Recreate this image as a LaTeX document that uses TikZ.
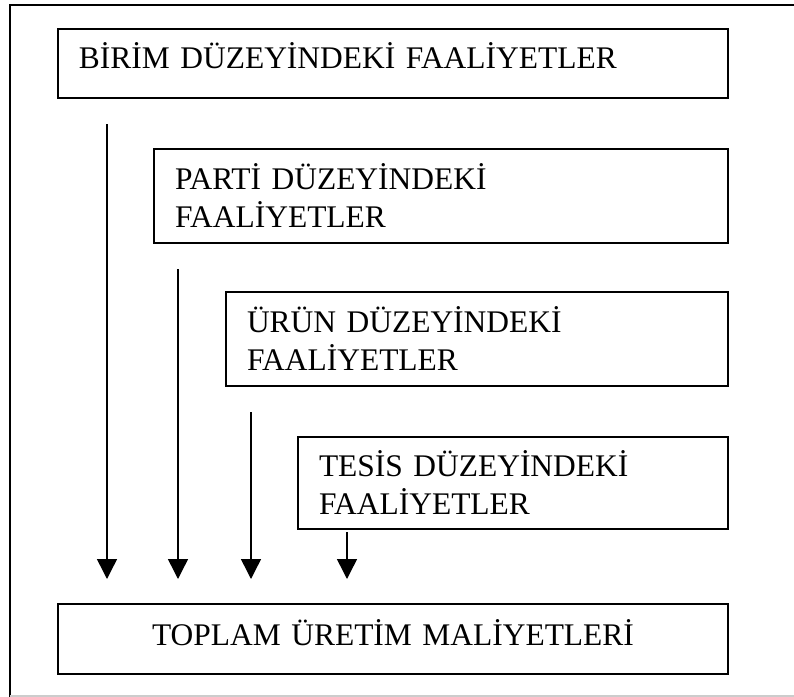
\documentclass[tikz,border=0pt]{standalone}
\usepackage{fontspec}
\setmainfont{Liberation Serif}
\usetikzlibrary{arrows.meta}
\begin{document}
\begin{tikzpicture}[x=0.75pt,y=-0.75pt,
  box/.style={draw, line width=1.2pt, rectangle, inner xsep=15.75pt, inner ysep=0pt,
    font=\fontsize{23.6pt}{28.5pt}\selectfont, align=left, anchor=center},
  flow/.style={-{Triangle[width=15pt,length=15pt]}, line width=1.1pt}]
  \useasboundingbox (0,0) rectangle (794,697);
  % page frame
  \draw[line width=1.5pt] (794,5) -- (10,5) -- (10,697);
  \draw[line width=1.2pt, black!20] (10,696) -- (794,696);

  % activity levels
  \node[box, text width=471pt, minimum height=51.75pt,
        text height=15.75pt, text depth=9pt] (birim) at (393,63.5)
    {BİRİM DÜZEYİNDEKİ FAALİYETLER};
  \node[box, text width=399pt, minimum height=70.5pt] (parti) at (441,196)
    {PARTİ DÜZEYİNDEKİ\\FAALİYETLER};
  \node[box, text width=345pt, minimum height=70.5pt] (urun) at (477,339)
    {ÜRÜN DÜZEYİNDEKİ\\FAALİYETLER};
  \node[box, text width=291pt, minimum height=69pt] (tesis) at (513,483)
    {TESİS DÜZEYİNDEKİ\\FAALİYETLER};
  \node[box, text width=471pt, minimum height=52.5pt, align=center,
        text height=15.75pt, text depth=6.75pt] (toplam) at (393,639)
    {TOPLAM ÜRETİM MALİYETLERİ};

  % flows into total cost
  \coordinate (s1) at (107,124); \coordinate (e1) at (107,579);
  \coordinate (s2) at (178,269); \coordinate (e2) at (178,579);
  \coordinate (s3) at (251,412); \coordinate (e3) at (251,579);
  \coordinate (s4) at (347,532); \coordinate (e4) at (347,579);
  \draw[flow] (s1) -- (e1);
  \draw[flow] (s2) -- (e2);
  \draw[flow] (s3) -- (e3);
  \draw[flow] (s4) -- (e4);
\end{tikzpicture}
\end{document}
